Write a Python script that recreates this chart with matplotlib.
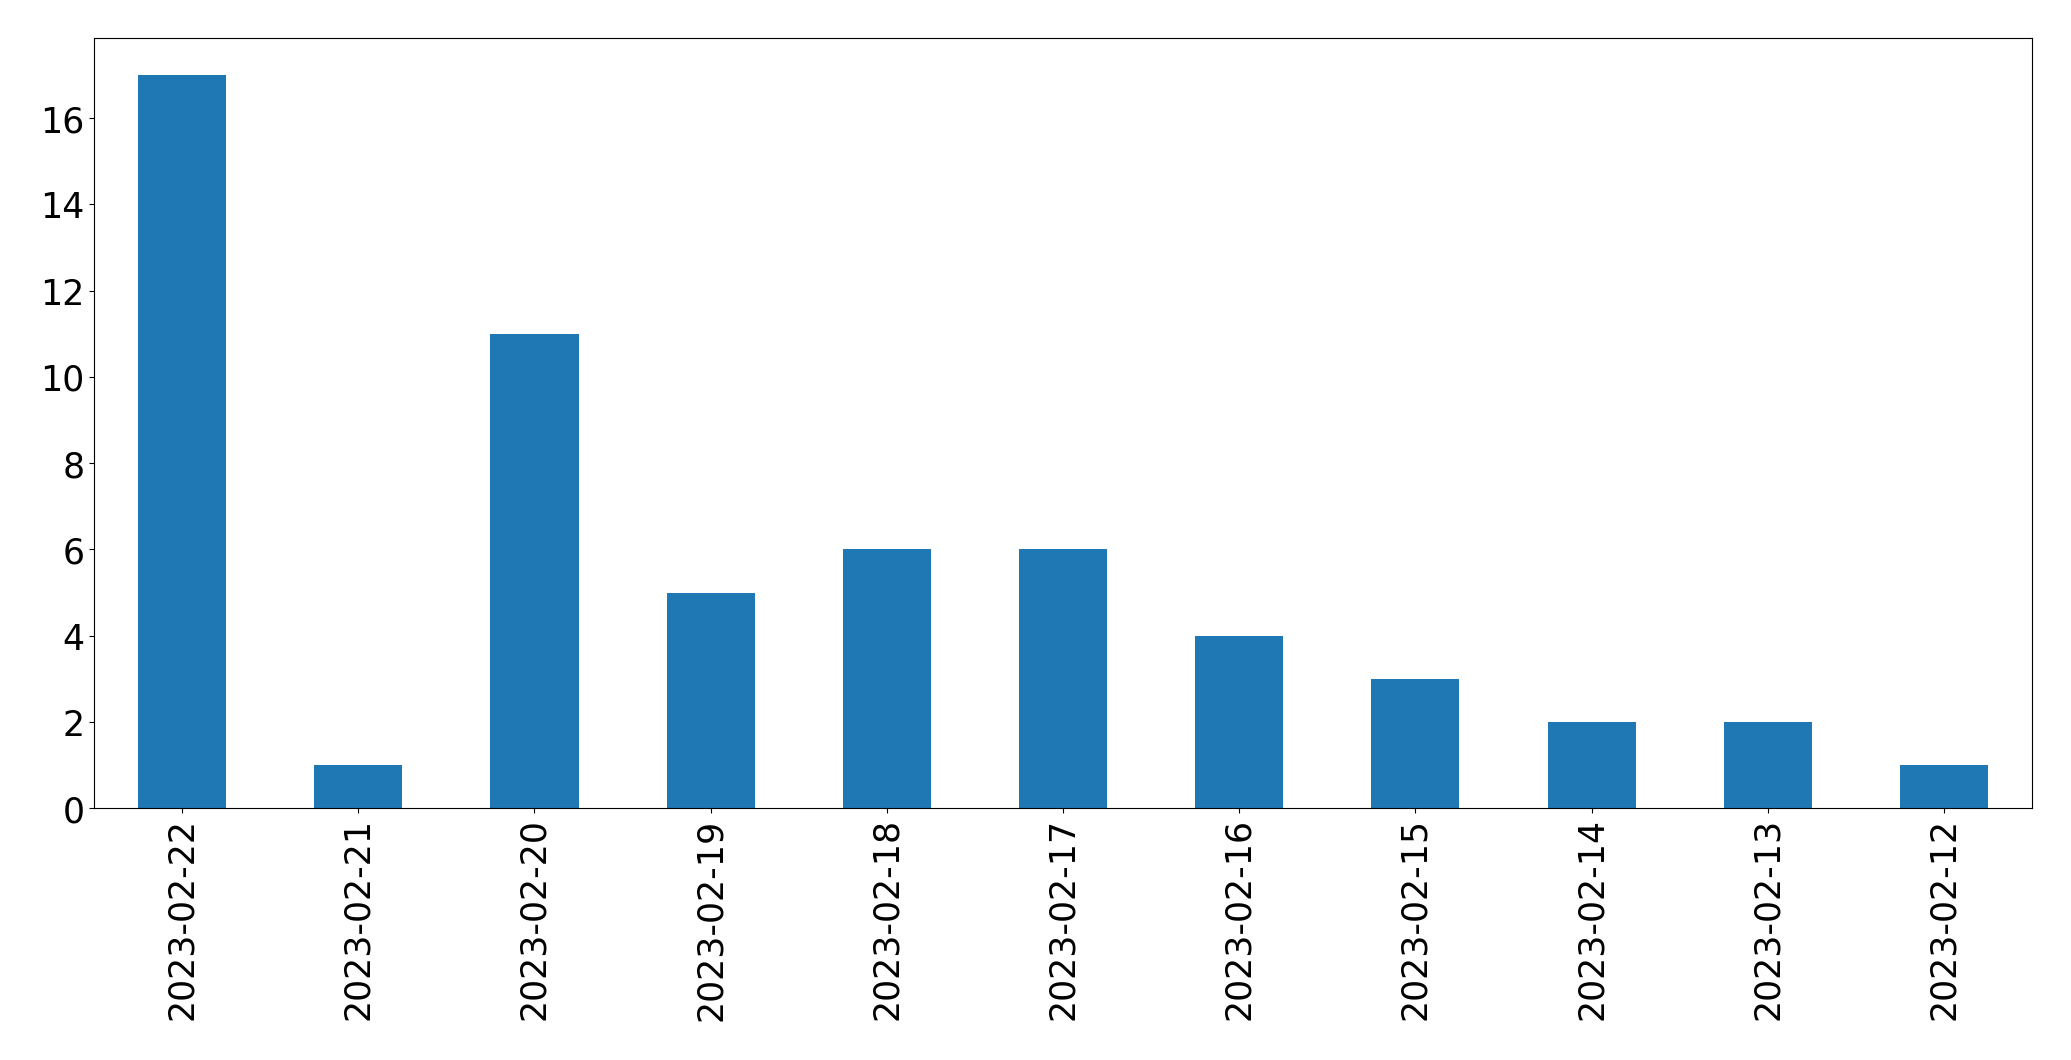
import matplotlib
matplotlib.use("Agg")
import matplotlib.pyplot as plt

dates = ["2023-02-22", "2023-02-21", "2023-02-20", "2023-02-19", "2023-02-18",
         "2023-02-17", "2023-02-16", "2023-02-15", "2023-02-14", "2023-02-13",
         "2023-02-12"]
counts = [17, 1, 11, 5, 6, 6, 4, 3, 2, 2, 1]

fig = plt.figure(figsize=(20.71, 10.605), dpi=100)
ax = fig.add_axes([94 / 2071, 1 - 809 / 1061, (2032 - 94) / 2071, (809 - 39) / 1061])
x = list(range(len(dates)))
ax.bar(x, counts, width=0.5, color="#1f77b4")
ax.set_xlim(-0.5, len(dates) - 0.5)
ax.set_ylim(0, max(counts) * 1.05)
ax.set_xticks(x)
ax.set_xticklabels(dates, rotation=90)
ax.set_yticks(range(0, 17, 2))
ax.tick_params(labelsize=25)
fig.savefig("out.png", dpi=100)
